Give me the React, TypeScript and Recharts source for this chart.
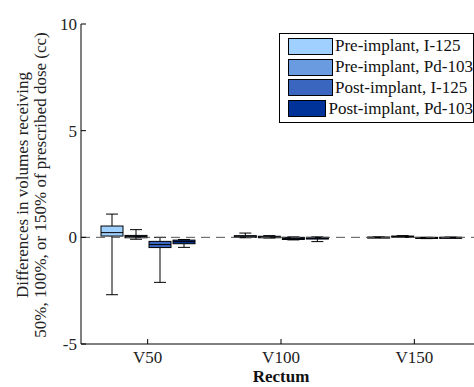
import { ComposedChart, Bar, XAxis, YAxis, ReferenceLine, Legend } from "recharts";

// 箱ひげ図の値: [min, q1, median, q3, max] (cc)
const CATEGORIES = ["V50", "V100", "V150"];
const PRE_I125 = [
  [-2.69, 0.06, 0.22, 0.53, 1.09],
  [-0.02, 0.0, 0.03, 0.08, 0.2],
  [-0.01, 0.0, 0.0, 0.01, 0.02],
];
const PRE_PD103 = [
  [-0.09, -0.02, 0.04, 0.09, 0.36],
  [-0.03, -0.02, 0.02, 0.05, 0.08],
  [0.0, 0.01, 0.03, 0.06, 0.08],
];
const POST_I125 = [
  [-2.11, -0.48, -0.34, -0.19, 0.0],
  [-0.12, -0.1, -0.05, 0.0, 0.02],
  [-0.06, -0.05, -0.03, 0.0, 0.0],
];
const POST_PD103 = [
  [-0.47, -0.3, -0.2, -0.13, -0.1],
  [-0.2, -0.08, -0.04, 0.0, 0.02],
  [-0.02, -0.01, 0.0, 0.0, 0.01],
];
const SERIES = [
  { key: "pre125", name: "Pre-implant, I-125", color: "#A0D0FF", values: PRE_I125 },
  { key: "pre103", name: "Pre-implant, Pd-103", color: "#6A9BE0", values: PRE_PD103 },
  { key: "post125", name: "Post-implant, I-125", color: "#3A66BF", values: POST_I125 },
  { key: "post103", name: "Post-implant, Pd-103", color: "#003399", values: POST_PD103 },
];
const Y_TICKS = [-5, 0, 5, 10];

const data = CATEGORIES.map((cat, i) => {
  const row: Record<string, any> = { cat };
  SERIES.forEach((s) => (row[s.key] = s.values[i]));
  return row;
});

const FONT = "'Liberation Serif', 'Times New Roman', serif";
const FS = 17;
const PLOT_LEFT = 81;
const PLOT_TOP = 24;
const PLOT_BOTTOM = 344;

// 箱ひげ（バーの範囲 = min..max、内側は線形補間で配置）
function BoxShape(props: any) {
  const { x, y, width, height, fill, stats } = props;
  const [mn, q1, med, q3, mx] = stats;
  const top = Math.min(y, y + height);
  const h = Math.abs(height);
  const py = (val: number) => (mx === mn ? top : top + (h * (mx - val)) / (mx - mn));
  const cx = x + width / 2;
  const cap = 6;
  return (
    <g stroke="#000" strokeWidth={1}>
      <line x1={cx} x2={cx} y1={py(mx)} y2={py(q3)} />
      <line x1={cx} x2={cx} y1={py(q1)} y2={py(mn)} />
      <line x1={cx - cap} x2={cx + cap} y1={py(mx)} y2={py(mx)} />
      <line x1={cx - cap} x2={cx + cap} y1={py(mn)} y2={py(mn)} />
      <rect x={x} y={py(q3)} width={width} height={Math.max(py(q1) - py(q3), 1)} fill={fill} />
      <line x1={x} x2={x + width} y1={py(med)} y2={py(med)} />
    </g>
  );
}

function YTick(props: any) {
  const { y, payload } = props;
  return (
    <g>
      <line x1={PLOT_LEFT} x2={PLOT_LEFT + 5} y1={y} y2={y} stroke="#000" />
      <text x={PLOT_LEFT - 4} y={y} dy={6} textAnchor="end" fontSize={FS} fontFamily={FONT} fill="#222">
        {payload.value}
      </text>
    </g>
  );
}

function XTick(props: any) {
  const { x, payload } = props;
  return (
    <g>
      <line x1={x} x2={x} y1={PLOT_BOTTOM} y2={PLOT_BOTTOM - 5} stroke="#000" />
      <text x={x} y={PLOT_BOTTOM + 19} textAnchor="middle" fontSize={FS} fontFamily={FONT} fill="#222">
        {payload.value}
      </text>
    </g>
  );
}

function TopTick(props: any) {
  const { x } = props;
  return <line x1={x} x2={x} y1={PLOT_TOP} y2={PLOT_TOP + 5} stroke="#000" />;
}

function LegendBox() {
  return (
    <div
      style={{
        border: "1px solid #000",
        background: "#fff",
        width: 195,
        padding: "2px 0 3px 8px",
        boxSizing: "border-box",
        fontFamily: FONT,
        fontSize: FS,
        color: "#111",
      }}
    >
      {SERIES.map((s) => (
        <div key={s.key} style={{ display: "flex", alignItems: "center", height: 20.8 }}>
          <span
            style={{
              display: "inline-block",
              width: 43,
              height: 15,
              background: s.color,
              border: "1px solid #000",
              marginRight: 2,
            }}
          />
          <span style={{ whiteSpace: "nowrap" }}>{s.name}</span>
        </div>
      ))}
    </div>
  );
}

export default function App() {
  const cy = 185;
  return (
    <div
      style={{
        position: "fixed",
        left: 0,
        top: 0,
        width: 474,
        height: 387,
        overflow: "hidden",
        background: "#fff",
      }}
    >
      <ComposedChart
        width={490}
        height={387}
        data={data}
        margin={{ top: PLOT_TOP, right: 9, bottom: 13, left: 21 }}
        barGap={2}
      >
        <XAxis
          dataKey="cat"
          xAxisId="bottom"
          height={30}
          axisLine={{ stroke: "#000" }}
          tickLine={false}
          tick={<XTick />}
          interval={0}
          label={() => (
            <text
              x={281}
              y={382}
              textAnchor="middle"
              fontSize={FS}
              fontWeight="bold"
              fontFamily={FONT}
              fill="#111"
            >
              Rectum
            </text>
          )}
        />
        <XAxis
          dataKey="cat"
          xAxisId="top"
          orientation="top"
          height={0}
          axisLine={{ stroke: "#000" }}
          tickLine={false}
          tick={<TopTick />}
          interval={0}
        />
        <YAxis
          width={60}
          domain={[-5, 10]}
          ticks={Y_TICKS}
          allowDataOverflow
          axisLine={{ stroke: "#000" }}
          tickLine={false}
          tick={<YTick />}
          label={() => (
            <g fontFamily={FONT} fontSize={FS} fill="#222">
              <text x={28} y={cy} textAnchor="middle" transform={`rotate(-90 28 ${cy})`}>
                Differences in volumes receiving
              </text>
              <text x={46} y={cy} textAnchor="middle" transform={`rotate(-90 46 ${cy})`}>
                50%, 100%, or 150% of prescribed dose (cc)
              </text>
            </g>
          )}
        />
        <ReferenceLine y={0} xAxisId="bottom" stroke="#555" strokeDasharray="9 6" />
        {SERIES.map((s) => (
          <Bar
            key={s.key}
            xAxisId="bottom"
            dataKey={(d: any) => [d[s.key][0], d[s.key][4]]}
            name={s.name}
            fill={s.color}
            barSize={22}
            shape={(p: any) => <BoxShape {...p} stats={p.payload[s.key]} />}
            isAnimationActive={false}
          />
        ))}
        <Legend
          layout="vertical"
          align="center"
          verticalAlign="middle"
          content={() => <LegendBox />}
          wrapperStyle={{ left: 279, top: 33, width: 195 }}
        />
      </ComposedChart>
    </div>
  );
}
